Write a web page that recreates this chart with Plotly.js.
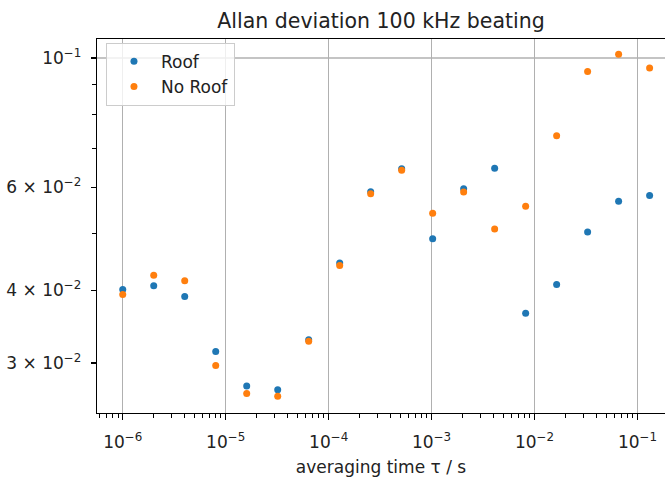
<!DOCTYPE html>
<html>
<head>
<meta charset="utf-8">
<script src="https://cdn.plot.ly/plotly-3.0.1.min.js"></script>
<style>html,body{margin:0;padding:0;background:#fff;}#chart{width:665px;height:477px;}</style>
</head>
<body>
<div id="chart"></div>
<script>
// averaging time tau in seconds
var tau = [1e-6, 2e-6, 4e-6, 8e-6, 1.6e-5, 3.2e-5, 6.4e-5, 1.28e-4, 2.56e-4, 5.12e-4,
           1.024e-3, 2.048e-3, 4.096e-3, 8.192e-3, 1.6384e-2, 3.2768e-2, 6.5536e-2, 1.31072e-1];
// Allan deviation, "Roof"
var roof = [0.0401, 0.0407, 0.0390, 0.0314, 0.0274, 0.0270, 0.0329, 0.0445, 0.0590, 0.0646,
            0.0490, 0.0597, 0.0647, 0.0365, 0.0409, 0.0503, 0.0568, 0.0581];
// Allan deviation, "No Roof"
var noRoof = [0.0393, 0.0424, 0.0415, 0.0297, 0.0266, 0.0263, 0.0327, 0.0441, 0.0585, 0.0642,
              0.0542, 0.0589, 0.0509, 0.0557, 0.0736, 0.0948, 0.1015, 0.0961];

var seriesNames = ['Roof', 'No Roof'];
var xTickVals = [1e-6, 1e-5, 1e-4, 1e-3, 1e-2, 1e-1];
var xTickText = ['10<sup>−6</sup>', '10<sup>−5</sup>', '10<sup>−4</sup>', '10<sup>−3</sup>', '10<sup>−2</sup>', '10<sup>−1</sup>'];
var yTickVals = [0.03, 0.04, 0.06, 0.1];
var yTickText = ['3 × 10<sup>−2</sup>', '4 × 10<sup>−2</sup>', '6 × 10<sup>−2</sup>', '10<sup>−1</sup>'];
var yMinorVals = [0.05, 0.07, 0.08, 0.09];

var xMinorVals = [];
for (var e = -7; e <= 0; e++) {
  for (var m = 2; m <= 9; m++) xMinorVals.push(m * Math.pow(10, e));
}

var FONT = 'DejaVu Sans, sans-serif';
var traces = [
  {x: tau, y: roof, name: seriesNames[0], type: 'scatter', mode: 'markers',
   marker: {color: '#1f77b4', size: 7}},
  {x: tau, y: noRoof, name: seriesNames[1], type: 'scatter', mode: 'markers',
   marker: {color: '#ff7f0e', size: 7}}
];

var layout = {
  width: 665, height: 477,
  margin: {l: 97, r: 0, t: 39, b: 64, pad: 0},
  paper_bgcolor: '#fff', plot_bgcolor: '#fff',
  font: {family: FONT, size: 17, color: '#222'},
  title: {text: 'Allan deviation 100 kHz beating', font: {family: FONT, size: 20.5, color: '#222'},
          x: 0.5, xref: 'paper', xanchor: 'center', y: 0.957, yref: 'container', yanchor: 'middle'},
  xaxis: {
    type: 'log', range: [-6.25, -0.733], autorange: false,
    tickmode: 'array', tickvals: xTickVals, ticktext: xTickText,
    ticks: 'outside', ticklen: 6, tickwidth: 1.2, tickcolor: '#000',
    ticklabelstandoff: 7,
    showgrid: true, gridcolor: '#b0b0b0', gridwidth: 1.3,
    showline: true, linecolor: '#000', linewidth: 1.3, mirror: true,
    zeroline: false,
    tickfont: {family: FONT, size: 17, color: '#222'},
    minor: {tickmode: 'array', tickvals: xMinorVals, ticks: 'outside', ticklen: 3.4, tickwidth: 1, tickcolor: '#000', showgrid: false},
    title: {text: 'averaging time τ / s', font: {family: FONT, size: 17, color: '#222'}, standoff: 20}
  },
  yaxis: {
    type: 'log', range: [-1.6086, -0.9674], autorange: false,
    tickmode: 'array', tickvals: yTickVals, ticktext: yTickText,
    ticks: 'outside', ticklen: 5, tickwidth: 1.2, tickcolor: '#000',
    ticklabelstandoff: 6,
    showgrid: false,
    showline: true, linecolor: '#000', linewidth: 1.3, mirror: false,
    zeroline: false,
    tickfont: {family: FONT, size: 17, color: '#222'},
    minor: {tickmode: 'array', tickvals: yMinorVals, ticks: 'outside', ticklen: 3.4, tickwidth: 1, tickcolor: '#000', showgrid: false}
  },
  shapes: [
    {type: 'line', xref: 'paper', x0: 0, x1: 1, yref: 'y', y0: 0.1, y1: 0.1,
     line: {color: '#b0b0b0', width: 1.3}, layer: 'below'}
  ],
  showlegend: true,
  legend: {x: 0.0158, y: 0.99, xanchor: 'left', yanchor: 'top',
           bgcolor: 'rgba(255,255,255,0.8)', bordercolor: '#cccccc', borderwidth: 1,
           font: {family: FONT, size: 17, color: '#222'}, itemwidth: 44}
};

Plotly.newPlot('chart', traces, layout, {displayModeBar: false, staticPlot: true});
</script>
</body>
</html>
